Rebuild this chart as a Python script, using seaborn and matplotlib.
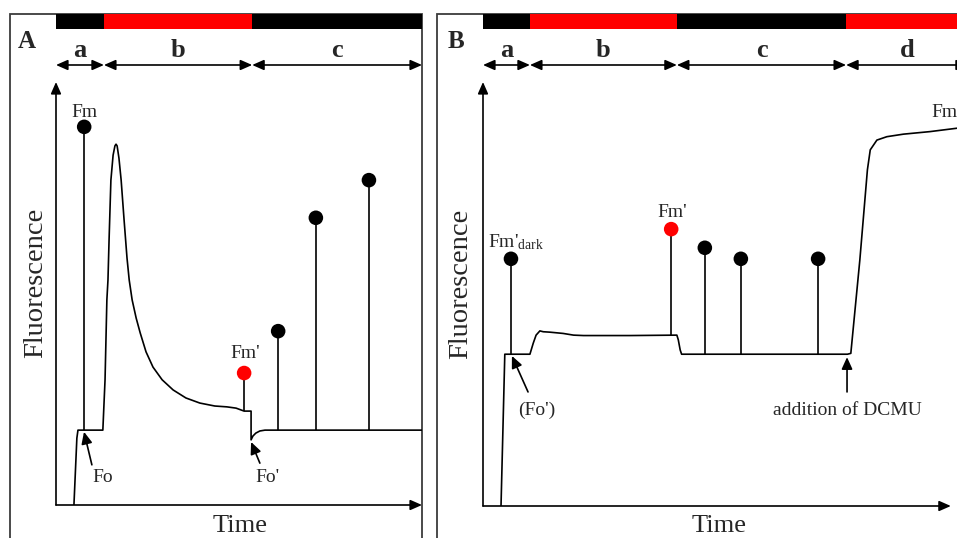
import numpy as np
import matplotlib
matplotlib.use("Agg")
import matplotlib.pyplot as plt
import seaborn as sns
from matplotlib.patches import Rectangle

# -------------------------
# data: time and fluorescence in arbitrary units (0-100 on each panel)

# panel A - trace
a_time = [4.9, 5.7, 6.0, 12.8, 13.4, 13.9, 14.2, 14.5, 15.0, 15.6, 16.1, 16.4, 16.7,
          17.2, 17.8, 18.6, 19.4, 20.0, 20.8, 21.9, 23.0, 24.6, 26.5, 29.0, 32.0,
          35.5, 39.3, 43.4, 46.7, 49.2, 51.4, 53.3, 53.3, 53.8, 54.6, 55.7, 57.1, 100.0]
a_fluor = [0.0, 15.8, 17.7, 17.7, 29.6, 48.5, 53.2, 62.7, 76.8, 82.7, 84.9, 85.3, 84.9,
           82.0, 76.8, 67.4, 58.4, 53.2, 48.5, 44.2, 40.7, 36.2, 32.6, 29.6, 27.2,
           25.3, 24.1, 23.4, 23.2, 22.9, 22.2, 22.2, 15.4, 16.3, 17.0, 17.5, 17.7, 17.7]

# panel A - saturating pulses
a_pulse_time = [7.7, 51.4, 60.7, 71.0, 85.5]
a_pulse_top = [89.4, 31.2, 41.1, 67.9, 76.8]
a_pulse_base = [17.7, 22.2, 17.7, 17.7, 17.7]
a_pulse_col = ["black", "red", "black", "black", "black"]

# panel A - light phases
a_edges = [0, 13.1, 53.6, 100]
a_light = ["dark", "light", "dark"]
a_names = ["a", "b", "c"]

# panel B - trace
b_time = [3.8, 4.6, 9.9, 10.6, 11.2, 12.0, 12.7, 14.1, 16.9, 19.1, 21.2, 31.0, 40.9,
          41.2, 41.6, 41.9, 76.9, 77.6, 79.5, 81.1, 81.7, 83.1, 85.2, 88.7, 94.3,
          100.0, 109.0]
b_fluor = [0.0, 35.8, 35.8, 38.4, 40.3, 41.3, 41.1, 41.0, 40.7, 40.3, 40.2, 40.2, 40.3,
           39.2, 36.8, 35.8, 35.8, 36.0, 58.0, 79.3, 84.0, 86.3, 87.1, 87.7, 88.3,
           89.1, 89.6]

# panel B - saturating pulses
b_pulse_time = [5.9, 39.7, 46.8, 54.4, 70.7]
b_pulse_top = [58.3, 65.3, 60.9, 58.3, 58.3]
b_pulse_base = [35.8, 40.3, 35.8, 35.8, 35.8]
b_pulse_col = ["black", "red", "black", "black", "black"]

# panel B - light phases
b_edges = [0, 9.9, 40.9, 76.6, 102.3]
b_light = ["dark", "light", "dark", "light"]
b_names = ["a", "b", "c", "d"]

# -------------------------
sns.set_theme(style="white")
plt.rcParams["font.family"] = ["Liberation Serif", "DejaVu Serif"]
plt.rcParams["mathtext.fontset"] = "custom"
plt.rcParams["mathtext.rm"] = "Liberation Serif"
plt.rcParams["mathtext.it"] = "Liberation Serif:italic"

W, H = 957, 538
fig = plt.figure(figsize=(W / 100, H / 100), dpi=100)
fig.patch.set_facecolor("white")


def px_box(x0, y0, x1, y1):
    return [x0 / W, 1 - y1 / H, (x1 - x0) / W, (y1 - y0) / H]


light_col = {"dark": "black", "light": "#ff0000"}
arrow_head = "-|>,head_length=0.5,head_width=0.22"
both_heads = "<|-|>,head_length=0.5,head_width=0.22"


def panel(ax_box, head_box, t, f, p_t, p_top, p_base, p_col, edges, light, names, x_tip):
    ax = fig.add_axes(ax_box)
    ax.set_facecolor("none")
    ax.set_xlim(0, 100)
    ax.set_ylim(0, 100)
    ax.set_axis_off()

    sns.lineplot(x=t, y=f, sort=False, estimator=None, color="black", lw=1.2, ax=ax)
    ax.vlines(p_t, p_base, p_top, color="black", lw=1.2)
    sns.scatterplot(x=p_t, y=p_top, hue=p_col, palette={"black": "black", "red": "#ff0000"},
                    s=110, linewidth=0, legend=False, ax=ax, zorder=3)

    # axis arrows
    for tip in [(0, 1), (x_tip, 0)]:
        ax.annotate("", xy=tip, xytext=(0, 0), xycoords="axes fraction",
                    annotation_clip=False,
                    arrowprops=dict(arrowstyle=arrow_head, color="black", lw=1.2,
                                    shrinkA=0, shrinkB=0, mutation_scale=14))

    # light bar + phase arrows
    hx = fig.add_axes(head_box)
    hx.set_facecolor("none")
    hx.set_xlim(0, 100)
    hx.set_ylim(0, 1)
    hx.set_axis_off()
    hx.barh(y=0.877, width=np.diff(edges), left=edges[:-1], height=0.246,
            color=[light_col[l] for l in light], linewidth=0)
    for s, e, n in zip(edges[:-1], edges[1:], names):
        hx.annotate("", xy=(e, 0.164), xytext=(s, 0.164), annotation_clip=False,
                    arrowprops=dict(arrowstyle=both_heads, color="black", lw=1.2,
                                    shrinkA=0, shrinkB=0, mutation_scale=14))
        hx.text((s + e) / 2, 0.295, n, ha="center", va="baseline",
                fontsize=19, fontweight="bold")
    return ax


# frames round the two panels
for x0, x1 in [(10, 422), (437, 1300)]:
    fig.add_artist(Rectangle((x0 / W, -0.1), (x1 - x0) / W, 1.1 - 14 / H,
                             transform=fig.transFigure, fill=False,
                             ec="#3c3c3c", lw=1.3, zorder=-1))

axA = panel(px_box(56, 82, 422, 505), px_box(56, 14, 422, 75),
            a_time, a_fluor, a_pulse_time, a_pulse_top, a_pulse_base, a_pulse_col,
            a_edges, a_light, a_names, 1.0)
axB = panel(px_box(483, 82, 957, 506), px_box(483, 14, 957, 75),
            b_time, b_fluor, b_pulse_time, b_pulse_top, b_pulse_base, b_pulse_col,
            b_edges, b_light, b_names, 0.987)

fs = 14
arrow_kw = dict(arrowstyle="-|>,head_length=0.55,head_width=0.25", color="black",
                lw=1.2, shrinkA=0, shrinkB=0, mutation_scale=13)

# panel A labels
axA.text(7.7, 91.7, "Fm", ha="center", va="baseline", fontsize=fs)
axA.text(51.6, 34.8, "Fm'", ha="center", va="baseline", fontsize=fs)
axA.annotate("", xy=(7.65, 17.3), xytext=(9.8, 9.5), arrowprops=arrow_kw)
axA.text(12.8, 5.4, "Fo", ha="center", va="baseline", fontsize=fs)
axA.annotate("", xy=(53.3, 14.9), xytext=(55.7, 9.9), arrowprops=arrow_kw)
axA.text(57.7, 5.4, "Fo'", ha="center", va="baseline", fontsize=fs)
axA.text(0.503, -0.064, "Time", transform=axA.transAxes, ha="center", va="baseline", fontsize=19)
axA.text(-0.056, 0.525, "Fluorescence", transform=axA.transAxes, rotation=90,
         ha="center", va="center", fontsize=20.5)

# panel B labels
axB.text(1.05, 61.1, r"Fm'$_{\mathrm{dark}}$", ha="left", va="baseline", fontsize=fs)
axB.text(39.9, 68.2, "Fm'", ha="center", va="baseline", fontsize=fs)
axB.text(94.7, 91.7, "Fm", ha="left", va="baseline", fontsize=fs)
axB.annotate("", xy=(6.1, 35.4), xytext=(9.5, 26.9), arrowprops=arrow_kw)
axB.text(11.4, 21.5, "(Fo')", ha="center", va="baseline", fontsize=fs)
axB.annotate("", xy=(76.8, 35.1), xytext=(76.8, 26.9), arrowprops=arrow_kw)
axB.text(76.8, 21.5, "addition of DCMU", ha="center", va="baseline", fontsize=fs)
axB.text(0.497, -0.061, "Time", transform=axB.transAxes, ha="center", va="baseline", fontsize=19)
axB.text(-0.047, 0.525, "Fluorescence", transform=axB.transAxes, rotation=90,
         ha="center", va="center", fontsize=20.5)

# panel letters
fig.text(18 / W, 1 - 48 / H, "A", ha="left", va="baseline", fontsize=18, fontweight="bold")
fig.text(448 / W, 1 - 48 / H, "B", ha="left", va="baseline", fontsize=18, fontweight="bold")

fig.savefig("out.png", dpi=100)
